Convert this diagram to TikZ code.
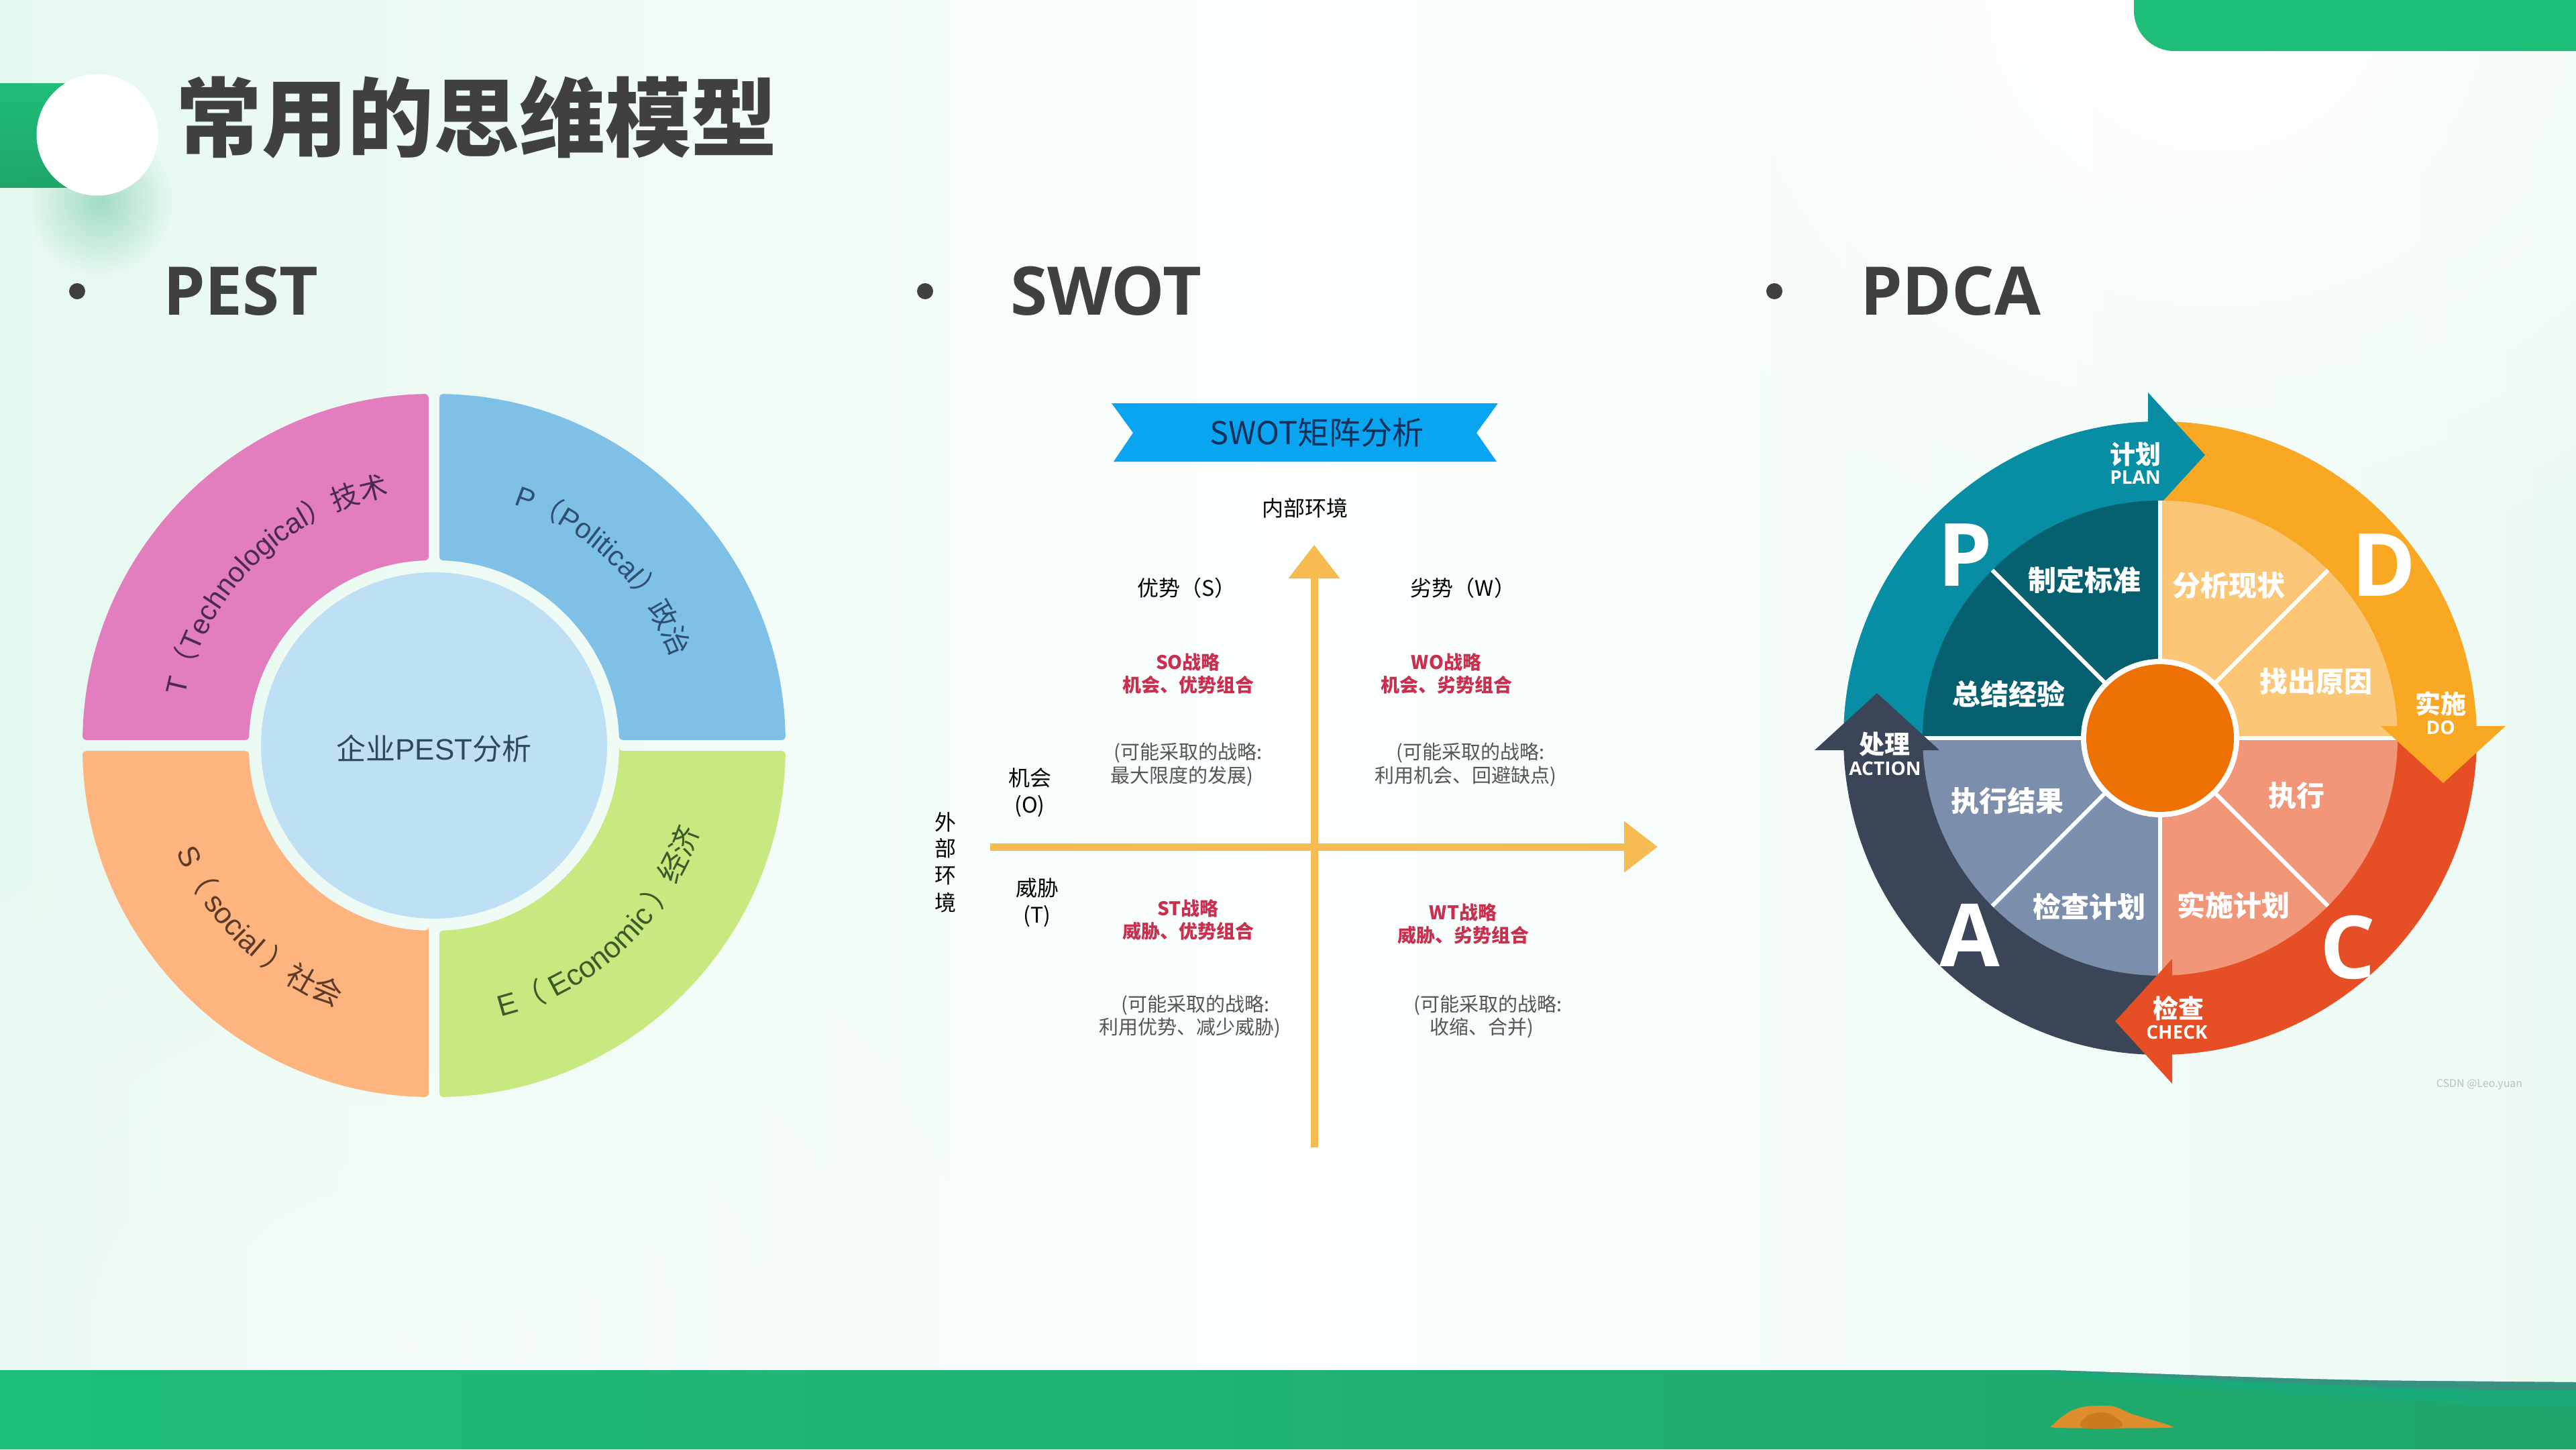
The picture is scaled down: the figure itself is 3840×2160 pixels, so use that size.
\documentclass[tikz,border=0pt]{standalone}
\usepackage{fontspec}
\setmainfont{Noto Sans CJK SC}
\newfontfamily\latinbold{Open Sans}
\newfontfamily\arialish{Liberation Sans}
\newfontfamily\titlefont{Noto Sans CJK SC Black}
\usetikzlibrary{arrows.meta,decorations.text,fadings}
\newcommand\fsz[2]{\fontsize{#1}{#2}\selectfont}
\definecolor{bgmint}{HTML}{E6F9F0}
\definecolor{bgsoft}{HTML}{FBFEFD}
\definecolor{bgtail}{HTML}{ECFAF4}
\definecolor{barA}{HTML}{1EBE78}
\definecolor{barB}{HTML}{1FA66A}
\definecolor{inkc}{HTML}{404040}
\definecolor{pink}{HTML}{E27DBE}
\definecolor{skyb}{HTML}{7FC0E6}
\definecolor{peach}{HTML}{FDB47E}
\definecolor{lime}{HTML}{C7E97F}
\definecolor{pale}{HTML}{BEE0F4}
\definecolor{axisc}{HTML}{F6BC52}
\definecolor{bann}{HTML}{0AA5F0}
\definecolor{bannt}{HTML}{12305A}
\definecolor{strat}{HTML}{C8304F}
\definecolor{greyt}{HTML}{555555}
\definecolor{tealB}{HTML}{078EA4}
\definecolor{amb}{HTML}{F9A823}
\definecolor{redB}{HTML}{E64E26}
\definecolor{slateB}{HTML}{3A4558}
\definecolor{tealW}{HTML}{04606F}
\definecolor{ambW}{HTML}{FBC777}
\definecolor{redW}{HTML}{F2967A}
\definecolor{slateW}{HTML}{7B8EAB}
\definecolor{coreo}{HTML}{EE7203}
\definecolor{edgeD}{HTML}{3F8D85}
\definecolor{edgeL}{HTML}{16AD8B}
\definecolor{moundA}{HTML}{DE8E2C}
\definecolor{moundB}{HTML}{CC7A20}
\definecolor{txT}{HTML}{4A2A55}
\definecolor{txP}{HTML}{2E4F70}
\definecolor{txS}{HTML}{5E3A28}
\definecolor{txE}{HTML}{3F5A2A}
\definecolor{txC}{HTML}{2C4A5E}
\tikzfading[name=softc,inner color=transparent!0,outer color=transparent!100]
\tikzset{
  x=1pt,y=1pt,
  every node/.style={inner sep=0pt,outer sep=0pt,align=center},
  headt/.style={font=\latinbold\bfseries\fsz{100}{110},text=inkc,anchor=west},
  bulletdot/.style={circle,fill=inkc,minimum size=24pt},
  axisline/.style={draw=axisc,line width=11pt,-{Triangle[length=50pt,width=74pt]}},
  blk/.style={font=\fsz{32}{40},text=black},
  strategy/.style={font=\bfseries\fsz{28}{34},text=strat},
  hint/.style={font=\fsz{29}{34},text=greyt},
  wlabel/.style={font=\bfseries\fsz{42}{50},text=white},
  bigl/.style={font=\latinbold\bfseries\fsz{130}{140},text=white},
  hcn/.style={font=\bfseries\fsz{38}{44},text=white},
  hen/.style={font=\latinbold\bfseries\fsz{28}{32},text=white},
  spoke/.style={draw=white,line width=6pt},
}
\newcommand\pestsector[1]{%
  \fill[#1,rounded corners=5pt] (88.3:276) -- (89.1:524)
    arc[start angle=89.1,end angle=0.9,radius=524] -- (1.7:276)
    arc[start angle=1.7,end angle=88.3,radius=276] -- cycle;}
\newcommand\band[3]{\fill[#1] (0,0) -- (#2:472) arc[start angle=#2,end angle=#3,radius=472] -- cycle;}
\newcommand\wheelq[3]{\fill[#1] (0,0) -- (#2:354) arc[start angle=#2,end angle=#3,radius=354] -- cycle;}
\newcommand\arcL{\arialish\fsz{42}{48}}
\newcommand\arcC{\normalfont\fsz{42}{48}}
\newcommand\arcLb{\arialish\fsz{44}{50}}
\newcommand\arcCb{\normalfont\fsz{44}{50}}
\newcommand\arctext[5]{%
  \path[decorate,decoration={text along path,text align=center,text color=#4,
    text={#5}}] (#2:#1) arc[start angle=#2,end angle=#3,radius=#1];}
\begin{document}
\begin{tikzpicture}
\useasboundingbox (0,0) rectangle (3840,-2160);
% background
\shade[left color=bgmint,right color=bgtail,middle color=bgsoft] (0,0) rectangle (3840,-2160);
\fill[white,path fading=softc] (2300,-900) rectangle (4300,900);
\fill[white,opacity=.45,path fading=softc] (-500,-1100) rectangle (1700,-2900);
% top right tab
\fill[barA,rounded corners=60pt] (3181,200) -- (3181,-76) -- (3900,-76) -- (3900,200) -- cycle;
% bottom band
\shade[left color=barA,right color=barB] (0,-2042) -- (3057,-2042) .. controls (3250,-2048) and (3400,-2056) .. (3604,-2058) -- (3840,-2060) -- (3840,-2160) -- (0,-2160) -- cycle;
\fill[edgeL,opacity=.45] (3057,-2042) .. controls (3250,-2048) and (3400,-2056) .. (3604,-2058) -- (3840,-2060) -- (3840,-2098) .. controls (3600,-2094) and (3300,-2070) .. (3057,-2050) -- cycle;
\fill[edgeD,opacity=.8] (3057,-2042) .. controls (3250,-2048) and (3400,-2056) .. (3604,-2058) -- (3840,-2060) -- (3840,-2072) .. controls (3700,-2073) and (3450,-2066) .. (3057,-2043) -- cycle;
\fill[moundA] plot[smooth cycle,tension=.5] coordinates {(3062,-2122) (3085,-2104) (3110,-2096) (3150,-2096) (3180,-2108) (3233,-2124) (3225,-2128) (3070,-2128)};
\fill[moundB] plot[smooth cycle,tension=.7] coordinates {(3104,-2127) (3112,-2110) (3135,-2105) (3155,-2113) (3160,-2127)};
% title block
\shade[top color=barA,bottom color=barB] (0,-124) rectangle (120,-279);
\fill[barB,opacity=.35,path fading=softc] (40,-190) rectangle (260,-410);
\node[circle,fill=white,minimum size=181pt] (badge) at (145,-201) {};
\node[font=\titlefont\fsz{128}{140},text=inkc] (title) at (710,-175) {常用的思维模型};
% section headings
\node[bulletdot] (b1) at (115,-434) {};
\node[headt] (h1) at (243,-434) {PEST};
\node[bulletdot] (b2) at (1379,-434) {};
\node[headt] (h2) at (1506,-434) {SWOT};
\node[bulletdot] (b3) at (2645,-434) {};
\node[headt] (h3) at (2773,-434) {PDCA};
% PEST
\coordinate (pestc) at (647,-1111);
\begin{scope}[shift={(pestc)}]
  \begin{scope}[rotate=0]\pestsector{skyb}\end{scope}
  \begin{scope}[rotate=90]\pestsector{pink}\end{scope}
  \begin{scope}[rotate=180]\pestsector{peach}\end{scope}
  \begin{scope}[rotate=270]\pestsector{lime}\end{scope}
  \fill[pale] (0,0) circle[radius=258];
  \arctext{378}{178}{91}{txT}{|\arcL|T|\arcC|（|\arcL|Technological|\arcC|）技术}
  \arctext{378}{90}{2}{txP}{|\arcL|P|\arcC|（|\arcL|Political|\arcC|）政治}
  \arctext{416}{182}{270}{txS}{|\arcLb|S|\arcCb|（|\arcLb| social |\arcCb|）社会}
  \arctext{416}{-91}{-3}{txE}{|\arcLb|E|\arcCb|（|\arcLb| Economic |\arcCb|）经济}
\end{scope}
\node[font=\fsz{44}{50},text=txC] (pestmid) at (647,-1116) {企业{\arialish PEST}分析};
% SWOT
\fill[bann] (1657,-601) -- (2233,-601) -- (2201,-645) -- (2231,-688) -- (1660,-688) -- (1689,-645) -- cycle;
\node[font=\fsz{47}{54},text=bannt] (bannert) at (1963,-645) {SWOT矩阵分析};
\node[blk] (inner) at (1945,-757) {内部环境};
\node[blk] (sS) at (1769,-876) {优势（S）};
\node[blk] (sW) at (2181,-876) {劣势（W）};
\coordinate (vb) at (1959,-1710);
\coordinate (vt) at (1959,-812);
\coordinate (hl) at (1476,-1262);
\coordinate (hr) at (2471,-1262);
\draw[axisline] (vb) -- (vt);
\draw[axisline] (hl) -- (hr);
\node[strategy] (so) at (1771,-1004) {SO战略\\机会、优势组合};
\node[strategy] (wo) at (2156,-1004) {WO战略\\机会、劣势组合};
\node[strategy] (st) at (1771,-1371) {ST战略\\威胁、优势组合};
\node[strategy] (wt) at (2181,-1377) {WT战略\\威胁、劣势组合};
\node[hint] (sot1) at (1771,-1122) {(可能采取的战略:};
\node[hint] (sot2) at (1762,-1157) {最大限度的发展)};
\node[hint] (wot1) at (2192,-1122) {(可能采取的战略:};
\node[hint] (wot2) at (2185,-1157) {利用机会、回避缺点)};
\node[hint] (stt1) at (1782,-1498) {(可能采取的战略:};
\node[hint] (stt2) at (1774,-1532) {利用优势、减少威胁)};
\node[hint] (wtt1) at (2218,-1498) {(可能采取的战略:};
\node[hint] (wtt2) at (2209,-1532) {收缩、合并)};
\node[blk] (oo) at (1535,-1181) {机会\\(O)};
\node[blk] (tt) at (1546,-1345) {威胁\\(T)};
\node[blk] (ex1) at (1409,-1225) {外};
\node[blk] (ex2) at (1409,-1264) {部};
\node[blk] (ex3) at (1409,-1305) {环};
\node[blk] (ex4) at (1409,-1345) {境};
% PDCA
\coordinate (pdcac) at (3220,-1100);
\begin{scope}[shift={(pdcac)}]
  \band{tealB}{182}{92}
  \band{amb}{92}{2}
  \band{redB}{2}{-88}
  \band{slateB}{-88}{-178}
  \fill[tealB] (-18,515) -- (67,422) -- (-18,329) -- cycle;
  \wheelq{tealW}{90}{180}
  \wheelq{ambW}{0}{90}
  \wheelq{redW}{-90}{0}
  \wheelq{slateW}{180}{270}
  \foreach \ang in {0,45,...,315}{\draw[spoke] (0,0) -- (\ang:354);}
  \fill[amb] (515,18) -- (422,-67) -- (329,18) -- cycle;
  \fill[redB] (18,-515) -- (-67,-422) -- (18,-329) -- cycle;
  \fill[slateB] (-515,-18) -- (-422,67) -- (-329,-18) -- cycle;
  \fill[white] (0,0) circle[radius=118];
  \fill[coreo] (0,0) circle[radius=110];
\end{scope}
\node[wlabel] (n1) at (3107,-864) {制定标准};
\node[wlabel] (n2) at (3322,-873) {分析现状};
\node[wlabel] (n3) at (3452,-1016) {找出原因};
\node[wlabel] (n4) at (2994,-1034) {总结经验};
\node[wlabel] (n5) at (2992,-1194) {执行结果};
\node[wlabel] (n6) at (3423,-1186) {执行};
\node[wlabel] (n7) at (3114,-1351) {检查计划};
\node[wlabel] (n8) at (3329,-1349) {实施计划};
\node[bigl] (lP) at (2929,-827) {P};
\node[bigl] (lD) at (3554,-842) {D};
\node[bigl] (lA) at (2936,-1394) {A};
\node[bigl] (lC) at (3500,-1412) {C};
\node[hcn] (p1) at (3183,-677) {计划};
\node[hen] (p2) at (3183,-711) {PLAN};
\node[hcn] (d1) at (3638,-1049) {实施};
\node[hen] (d2) at (3638,-1084) {DO};
\node[hcn] (a1) at (2809,-1109) {处理};
\node[hen] (a2) at (2810,-1145) {ACTION};
\node[hcn] (c1) at (3247,-1503) {检查};
\node[hen] (c2) at (3245,-1538) {CHECK};
\node[font=\fsz{16}{20},text=black!25] (wm) at (3696,-1616) {CSDN @Leo.yuan};
\end{tikzpicture}
\end{document}
